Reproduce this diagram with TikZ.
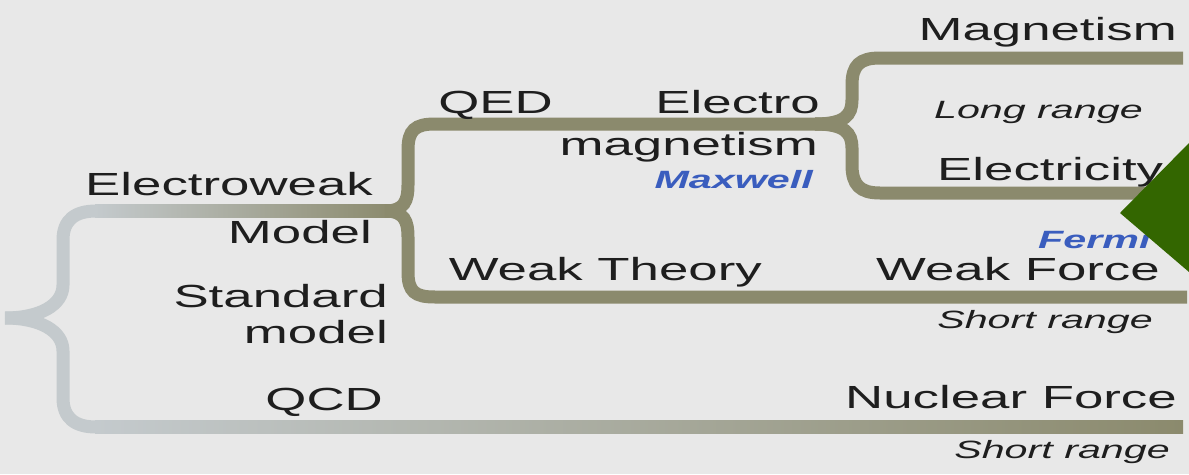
\documentclass[tikz,border=0pt]{standalone}
\usepackage{fontspec}
\setmainfont{Liberation Sans}[FakeStretch=1.65]
\usepackage{tikz}
\definecolor{olivebar}{HTML}{8B8A6D}
\definecolor{greybar}{HTML}{C4CACD}
\definecolor{paper}{HTML}{E8E8E8}
\definecolor{ink}{HTML}{1E1E1E}
\definecolor{nameblue}{HTML}{3A5DBE}
\definecolor{pointgreen}{HTML}{336600}

\begin{document}
\begin{tikzpicture}[x=1pt,y=-1pt,
  bar/.style={line width=13pt,line cap=butt},
  lbl/.style={inner sep=0pt,anchor=base east,text=ink,font=\fontsize{32}{36}\selectfont},
  note/.style={inner sep=0pt,anchor=base east,text=ink,font=\fontsize{25}{30}\selectfont\itshape},
  who/.style={inner sep=0pt,anchor=base east,text=nameblue,font=\fontsize{25}{30}\selectfont\bfseries\itshape}]
\fill[paper](0,0)rectangle(1189,474);
\useasboundingbox(0,0)rectangle(1189,474);
% standard model brace
\draw[bar,greybar](5,318)..controls(40,318)and(63,305)..(63,285)--(63,240)..controls(63,220)and(75,211)..(96,211);
\draw[bar,greybar](5,318)..controls(40,318)and(63,331)..(63,351)--(63,398)..controls(63,418)and(75,427)..(96,427);
\shade[left color=greybar,right color=olivebar](95,204.5)rectangle(392,217.5);
\shade[left color=greybar,right color=olivebar](95,420.5)rectangle(1183,433.5);
% electroweak brace
\draw[bar,olivebar](385,211)..controls(405,211)and(408,200)..(408,185)--(408,150)..controls(408,130)and(415,124)..(435,124)--(823,124);
\draw[bar,olivebar](385,211)..controls(405,211)and(408,222)..(408,237)--(408,272)..controls(408,292)and(415,297)..(435,297)--(1187,297);
% electromagnetism brace
\draw[bar,olivebar](815,124)..controls(845,124)and(852,115)..(852,100)--(852,85)..controls(852,65)and(860,58)..(880,58)--(1183,58);
\draw[bar,olivebar](815,124)..controls(845,124)and(852,133)..(852,148)--(852,165)..controls(852,185)and(860,193)..(880,193)--(1183,193);
% labels
\node[lbl](ewk)at(373,195){Electroweak};
\node[lbl](model)at(372,243){Model};
\node[lbl](standard)at(388,307){Standard};
\node[lbl](smodel)at(388,343){model};
\node[lbl](qcd)at(383,410){QCD};
\node[lbl](qed)at(553,113){QED};
\node[lbl](electro)at(820,113){Electro};
\node[lbl](magnet)at(818,155){magnetism};
\node[who](maxwell)at(813,188){Maxwell};
\node[lbl](weakth)at(762,280){Weak Theory};
\node[lbl](magn)at(1177,40){Magnetism};
\node[note](longr)at(1143,118){Long range};
\node[lbl,anchor=base west](elec)at(937,180){Electricity};
\node[who,anchor=base west](fermi)at(1038,248){Fermi};
\node[lbl](weakf)at(1160,280){Weak Force};
\node[note](shortw)at(1153,328){Short range};
\node[lbl](nucl)at(1177,408){Nuclear Force};
\node[note](shortn)at(1170,458){Short range};
% pointer
\fill[pointgreen](1120,213)--(1189,143)--(1189,272)--cycle;
\end{tikzpicture}
\end{document}
